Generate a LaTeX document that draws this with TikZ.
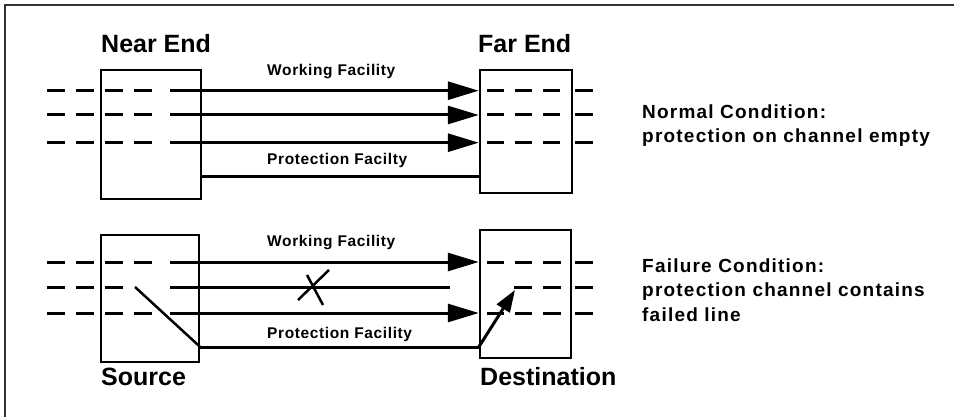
\documentclass[tikz,border=0pt]{standalone}
\usepackage{fontspec}
\setmainfont{Liberation Sans}
\newfontfamily\lblfont[LetterSpace=4]{Liberation Sans}
\newfontfamily\condfont[LetterSpace=6.4]{Liberation Sans}
\usetikzlibrary{arrows.meta}
\tikzset{
  box/.style={draw, line width=2.5pt, inner sep=0pt, rectangle},
  chan/.style={line width=3pt},
  dashseg/.style={line width=3pt, dash pattern=on 18pt off 11pt},
  dashfar/.style={line width=3pt, dash pattern=on 17pt off 11pt},
  arr/.style={chan, -{Triangle[length=31pt,width=18pt]}},
  swarr/.style={line width=3pt, -{Triangle[length=22pt,width=15pt]}},
  title/.style={anchor=base west, inner sep=0pt, font=\fontsize{25}{30}\selectfont\bfseries},
  lbl/.style={anchor=base west, inner sep=0pt, font=\lblfont\fontsize{15.5}{19}\selectfont\bfseries},
  cond/.style={anchor=base west, inner sep=0pt, font=\condfont\fontsize{19}{24}\selectfont\bfseries},
  frame/.style={line width=1.5pt, draw=black!80}
}
\begin{document}
\begin{tikzpicture}[x=1pt,y=-1pt]
\useasboundingbox (0,0) rectangle (954,417);
% frame
\draw[frame] (5,417) -- (5,5) -- (954,5);

% ---------- upper: normal condition ----------
\node[box, minimum width=100pt, minimum height=129pt] (near) at (151,134.5) {};
\node[box, minimum width=92pt, minimum height=123pt] (far) at (526,131.5) {};
\node[title] (tnear) at (101,53) {Near End};
\node[title] (tfar) at (478,53) {Far End};
\node[lbl] (wf1) at (267,76) {Working Facility};
\node[lbl] (pf1) at (267,165) {Protection Facilty};
\node[cond] (nc1) at (642,119) {Normal Condition:};
\node[cond] (nc2) at (642,143) {protection on channel empty};

\foreach \y in {90.7,115,142.7}{
  \draw[dashseg] (47,\y) -- (152,\y);
  \draw[dashfar] (487,\y) -- (561,\y);
  \draw[chan] (575,\y) -- (593,\y);
}
\coordinate (n1) at (170,90.7);
\coordinate (n2) at (170,115);
\coordinate (n3) at (170,142.7);
\draw[arr] (n1) -- (n1 -| far.west);
\draw[arr] (n2) -- (n2 -| far.west);
\draw[arr] (n3) -- (n3 -| far.west);
\coordinate (np) at (201,177);
\draw[chan] (near.east |- np) -- (far.west |- np);

% ---------- lower: failure condition ----------
\node[box, minimum width=98pt, minimum height=127pt] (src) at (150,298.5) {};
\node[box, minimum width=91pt, minimum height=128pt] (dst) at (525.5,294) {};
\node[title] (tsrc) at (101,385) {Source};
\node[title] (tdst) at (480,385) {Destination};
\node[lbl] (wf2) at (267,247) {Working Facility};
\node[lbl] (pf2) at (267,338) {Protection Facility};
\node[cond] (fc1) at (642,272) {Failure Condition:};
\node[cond] (fc2) at (642,296) {protection channel contains};
\node[cond] (fc3) at (642,321) {failed line};

\foreach \y in {262,313}{
  \draw[dashseg] (47,\y) -- (152,\y);
  \draw[dashfar] (487,\y) -- (532,\y);
  \draw[chan] (575,\y) -- (593,\y);
}
\draw[dashseg] (47,287) -- (123,287);
\draw[chan] (514,287) -- (532,287);
\draw[chan] (543,262) -- (561,262);
\draw[chan] (543,287) -- (561,287);
\draw[chan] (543,313) -- (561,313);
\draw[chan] (575,287) -- (593,287);

\coordinate (s1) at (170,262);
\coordinate (s2) at (170,287);
\coordinate (s3) at (170,313);
\coordinate (brk) at (450,287);
\draw[arr] (s1) -- (s1 -| dst.west);
\draw[chan] (s2) -- (brk);
\draw[arr] (s3) -- (s3 -| dst.west);
% failure mark
\coordinate (xa) at (298,300);
\coordinate (xb) at (329,270);
\coordinate (xc) at (307,275);
\coordinate (xd) at (323,305);
\draw[line width=2.5pt] (xa) -- (xb);
\draw[line width=2.5pt] (xc) -- (xd);
% switching
\coordinate (sw0) at (135,287);
\coordinate (sp) at (199,347);
\coordinate (dtip) at (515,290);
\draw[line width=2.5pt] (sw0) -- (src.east |- sp);
\draw[chan] (src.east |- sp) -- (dst.west |- sp);
\draw[swarr] (dst.west |- sp) -- (dtip);
\end{tikzpicture}
\end{document}
